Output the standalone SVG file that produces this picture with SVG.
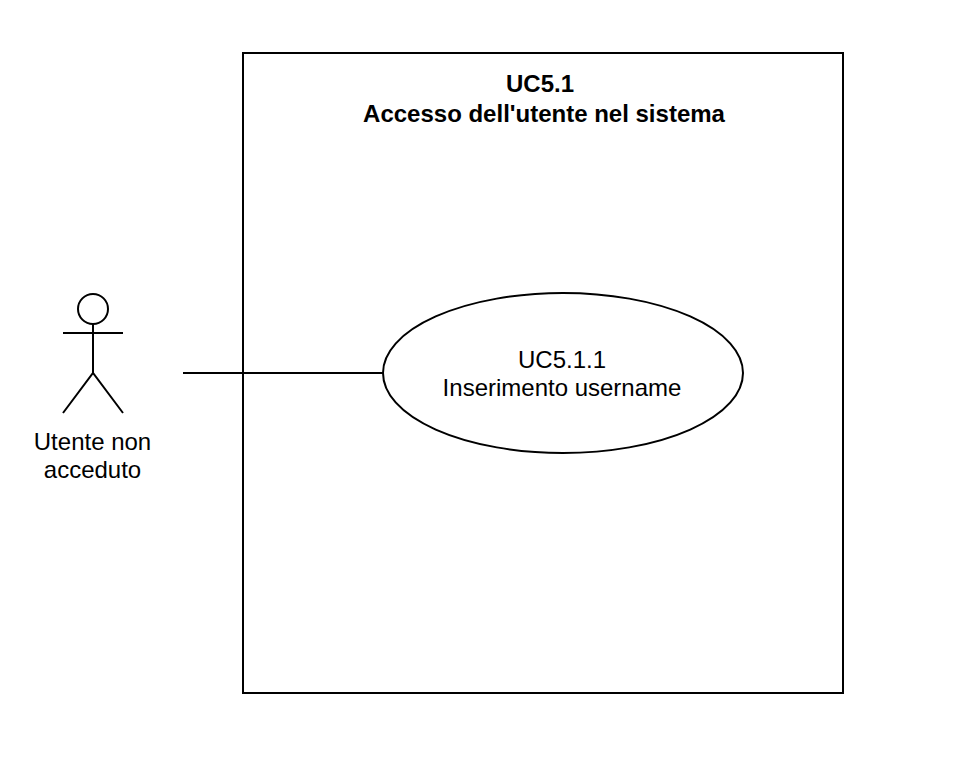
<svg xmlns="http://www.w3.org/2000/svg" width="964" height="757" viewBox="0 0 964 757">
<style>
.s{fill:#fff;stroke:#000;stroke-width:2}
.l{fill:none;stroke:#000;stroke-width:2}
text{font-family:"Liberation Sans",Arial,sans-serif;font-size:24px;fill:#000;text-anchor:middle}
.b{font-weight:bold}
</style>
<rect width="964" height="757" fill="#fff"/>
<g id="system"><rect class="s" x="243" y="53" width="600" height="640"/>
<text class="b" x="540" y="92">UC5.1</text>
<text class="b" x="544" y="122">Accesso dell'utente nel sistema</text></g>
<g id="connectors"><path class="l" d="M183 373H383"/></g>
<g id="usecase"><ellipse class="s" cx="563" cy="373" rx="180" ry="80"/>
<text x="562" y="368">UC5.1.1</text>
<text x="562" y="396">Inserimento username</text></g>
<g id="actor"><circle class="s" cx="93" cy="309" r="15"/>
<path class="l" d="M93 324V373M63 333H123M63 413L93 373L123 413"/>
<text x="92.5" y="450">Utente non</text>
<text x="92.5" y="478">acceduto</text></g>
</svg>
